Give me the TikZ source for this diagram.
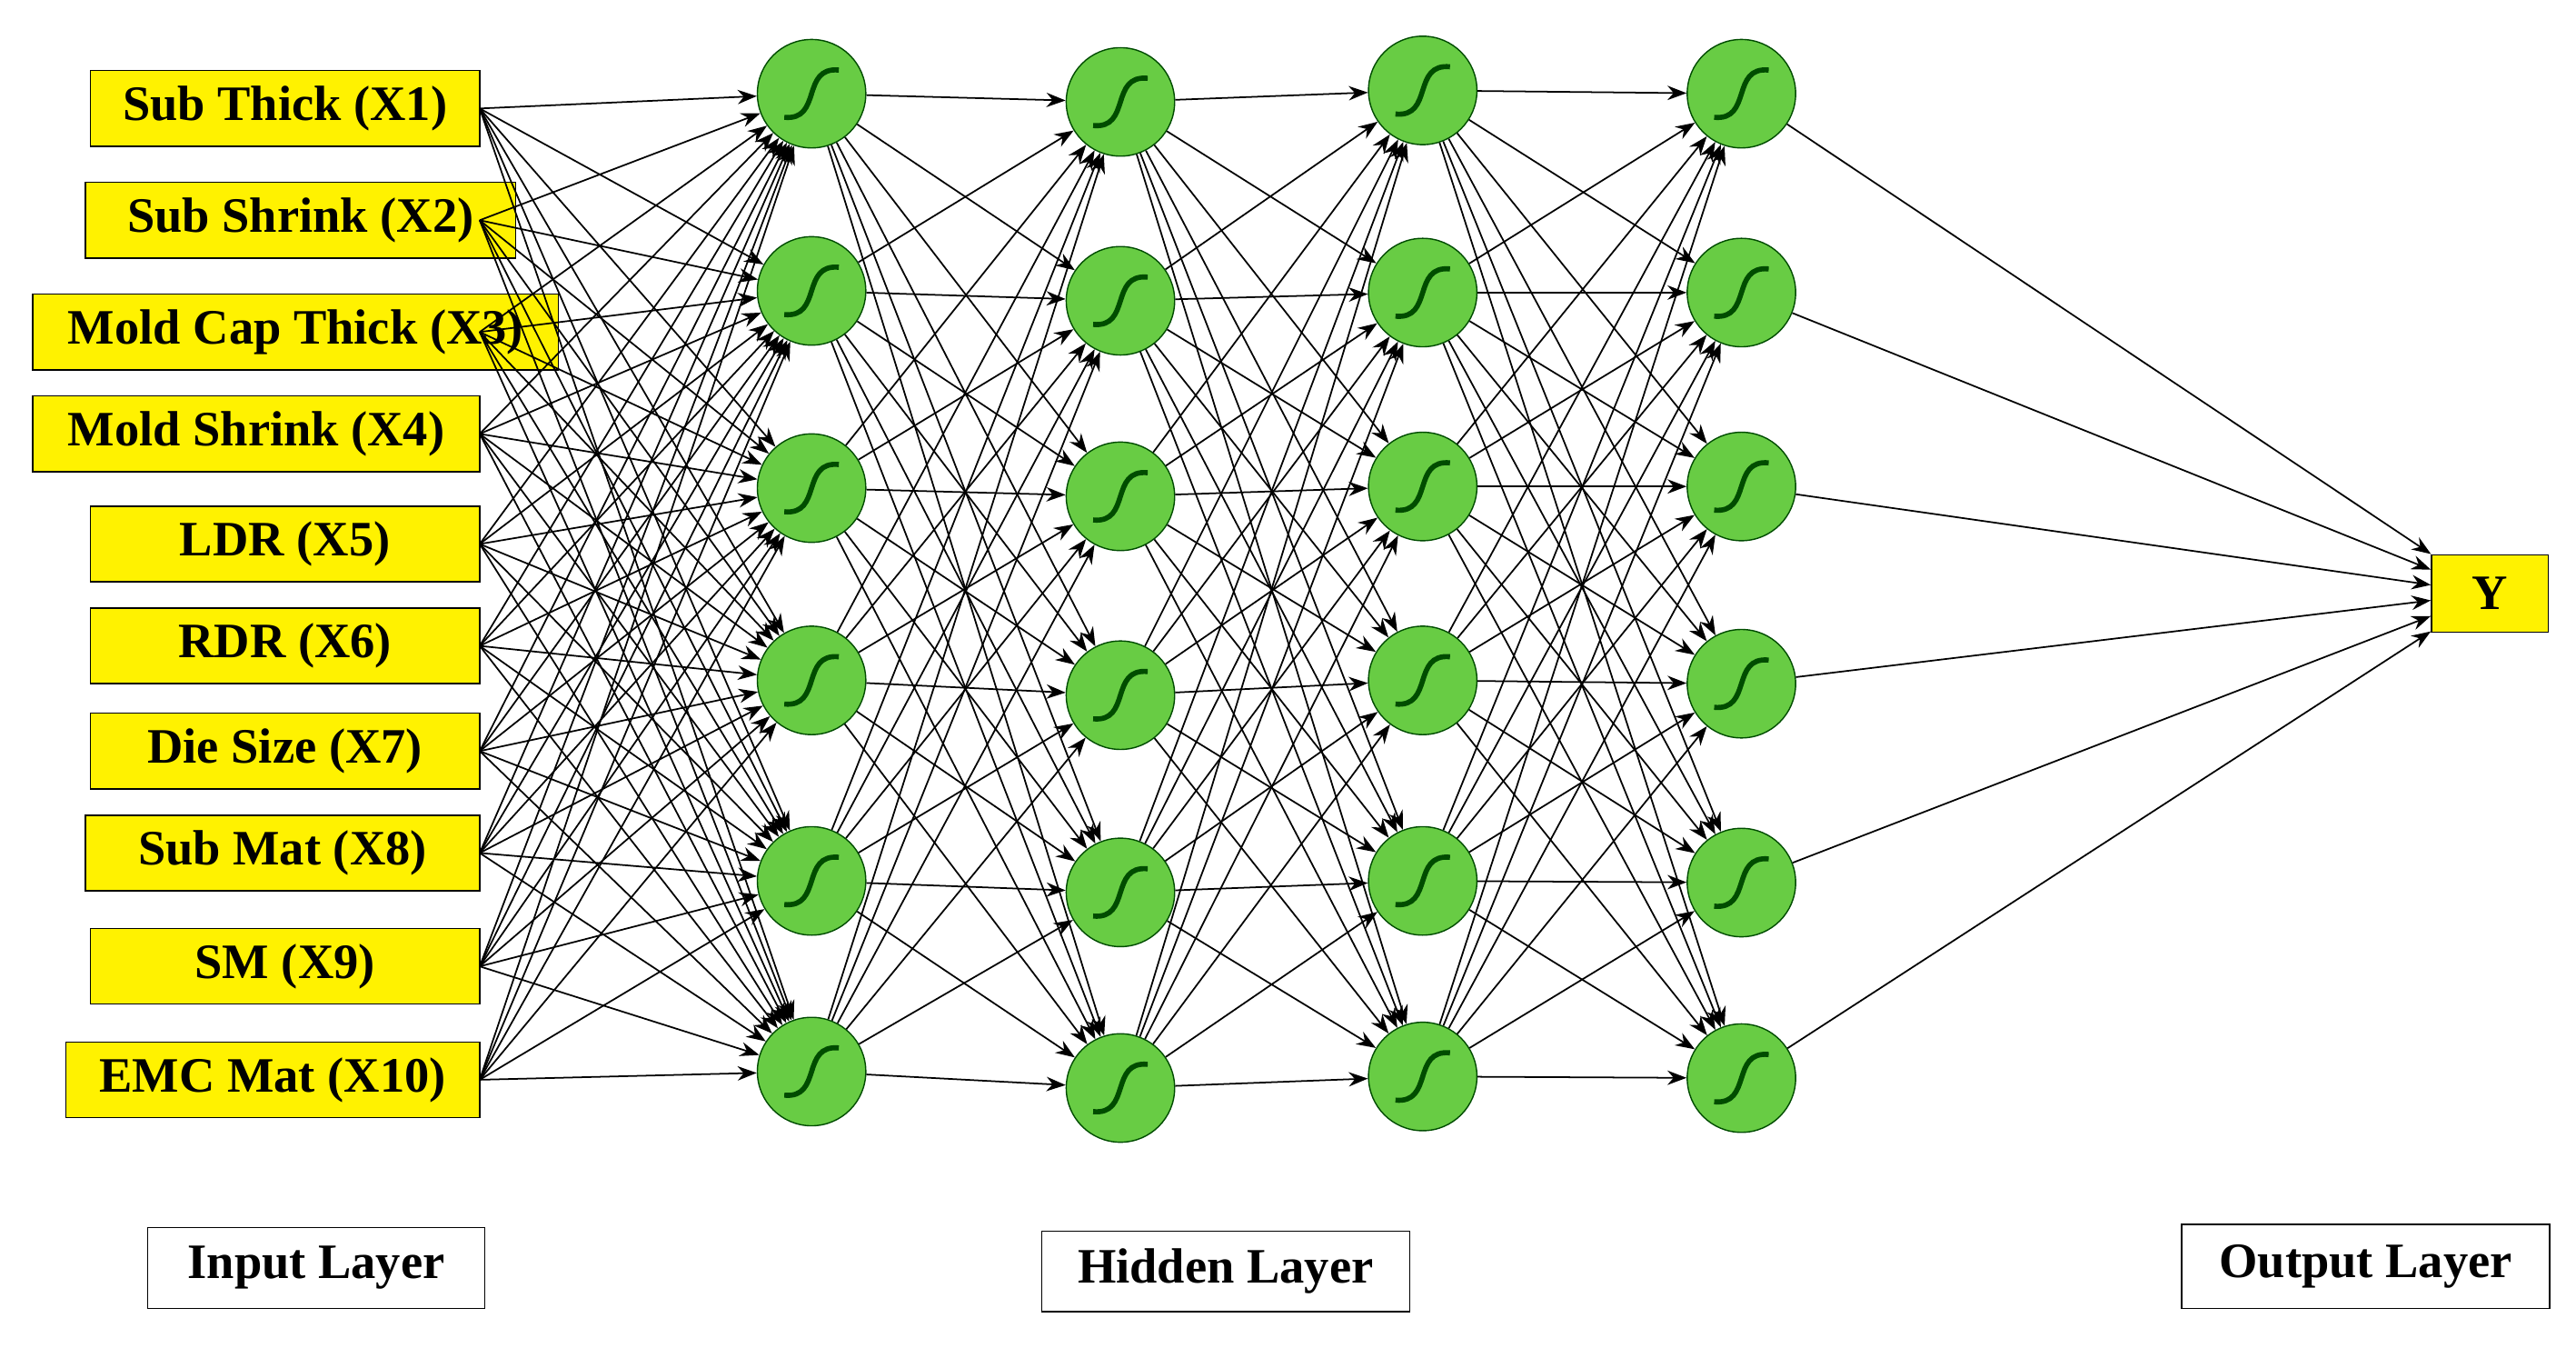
\documentclass[tikz,border=0pt]{standalone}
\usepackage{fontspec}
\setmainfont{Liberation Serif}
\usetikzlibrary{arrows.meta}
\begin{document}
\begin{tikzpicture}[x=0.01808cm,y=-0.01808cm,
 box/.style={draw=black,fill=yellow,font=\bfseries\fontsize{15.5}{17}\selectfont,inner sep=0pt,minimum height={46*0.01808cm}},
 lab/.style={draw=black,fill=white,font=\bfseries\fontsize{15.5}{17}\selectfont,inner sep=0pt,minimum height={49*0.01808cm}},
 neu/.style={circle,draw=black!70!green,fill={rgb,255:red,104;green,204;blue,68},minimum size={66*0.01808cm},inner sep=0pt,
   path picture={\draw[line width=1.6pt,shift={(path picture bounding box.center)}] (-0.3cm,-0.26cm) .. controls (0.12cm,-0.3cm) and (-0.12cm,0.3cm) .. (0.3cm,0.26cm);}},
 con/.style={-{Stealth[length=6pt,width=4.5pt]},line width=0.5pt}]
\useasboundingbox (0,0) rectangle (1568,820);
\node[box,minimum width={237*0.01808cm}] (x1) at (173.5,66) {Sub Thick (X1)};
\node[box,minimum width={262*0.01808cm}] (x2) at (183,134) {Sub Shrink (X2)};
\node[box,minimum width={320*0.01808cm}] (x3) at (180,202) {Mold Cap Thick (X3)};
\node[box,minimum width={272*0.01808cm}] (x4) at (156,264) {Mold Shrink (X4)};
\node[box,minimum width={237*0.01808cm}] (x5) at (173.5,331) {LDR (X5)};
\node[box,minimum width={237*0.01808cm}] (x6) at (173.5,393) {RDR (X6)};
\node[box,minimum width={237*0.01808cm}] (x7) at (173.5,457) {Die Size (X7)};
\node[box,minimum width={240*0.01808cm}] (x8) at (172,519) {Sub Mat (X8)};
\node[box,minimum width={237*0.01808cm}] (x9) at (173.5,588) {SM (X9)};
\node[box,minimum width={252*0.01808cm}] (x10) at (166,657) {EMC Mat (X10)};
\foreach \i/\y in {1/66,2/134,3/202,4/264,5/331,6/393,7/457,8/519,9/588,10/657}
  \coordinate (s\i) at (292,\y);
\foreach \i/\y in {1/57,2/177,3/297,4/414,5/536,6/652} \node[neu] (a\i) at (494,\y) {};
\foreach \i/\y in {1/62,2/183,3/302,4/423,5/543,6/662} \node[neu] (b\i) at (682,\y) {};
\foreach \i/\y in {1/55,2/178,3/296,4/414,5/536,6/655} \node[neu] (c\i) at (866,\y) {};
\foreach \i/\y in {1/57,2/178,3/296,4/416,5/537,6/656} \node[neu] (d\i) at (1060,\y) {};
\node[box,minimum width={71*0.01808cm},minimum height={47*0.01808cm}] (y) at (1515.5,361) {Y};
\foreach \i in {1,...,10} \foreach \j in {1,...,6} \draw[con] (s\i) -- (a\j);
\foreach \i in {1,...,6} \foreach \j in {1,...,6} {
  \draw[con] (a\i) -- (b\j);
  \draw[con] (b\i) -- (c\j);
  \draw[con] (c\i) -- (d\j);}
\foreach \i in {1,...,6} \draw[con] (d\i) -- (y);
\node[lab,minimum width={205*0.01808cm}] (l1) at (192.5,771.5) {Input Layer};
\node[lab,minimum width={224*0.01808cm}] (l2) at (746,773.5) {Hidden Layer};
\node[lab,minimum width={224*0.01808cm},minimum height={51*0.01808cm}] (l3) at (1440,770.5) {Output Layer};
\end{tikzpicture}
\end{document}
